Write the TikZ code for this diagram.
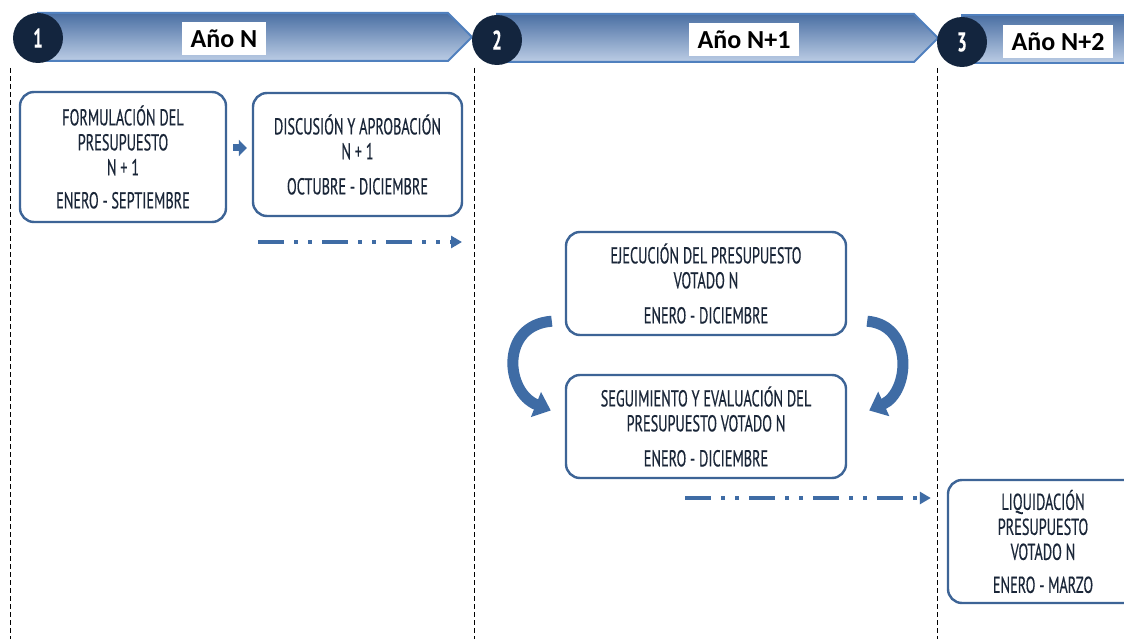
\documentclass[tikz,border=0pt]{standalone}
\usepackage{fontspec}
\setmainfont{Carlito}
\newfontfamily\boxfont[FakeStretch=0.62, FakeBold=0.4]{PT Sans}
\usetikzlibrary{positioning, arrows.meta, calc}
\definecolor{navy}{HTML}{13253E}
\definecolor{bandtop}{HTML}{4A6FA3}
\definecolor{bandbot}{HTML}{BCCDE5}
\definecolor{bandedge}{HTML}{5080BE}
\definecolor{boxblue}{HTML}{3D6496}
\definecolor{inkblue}{HTML}{1A2638}
\definecolor{arrowblue}{HTML}{3F6CA5}

\begin{document}
\begin{tikzpicture}[x=1pt, y=-1pt,
  stage/.style={draw=boxblue, line width=2.4pt, rounded corners=14pt, fill=white,
    align=center, text=inkblue, font=\boxfont\fontsize{23}{25}\selectfont},
  badge/.style={circle, fill=navy, minimum size=50pt, inner sep=0pt, text=white,
    font=\boxfont\bfseries\fontsize{27}{27}\selectfont},
  yearlabel/.style={fill=white, inner xsep=9pt, minimum height=33pt,
    font=\bfseries\fontsize{26}{28}\selectfont},
  band/.style={top color=bandtop, bottom color=bandbot, draw=bandedge, line width=2pt},
  flow/.style={arrowblue, line width=4pt,
    dash pattern=on 26pt off 10pt on 4pt off 10pt on 4pt off 10pt,
    -{Triangle[length=11pt, width=12pt]}},
  bendarrow/.style={arrowblue, line width=11pt, -{Triangle[length=16pt, width=26pt]}},
  guide/.style={black, line width=0.8pt, dash pattern=on 5pt off 3pt}]
  \clip (0,0) rectangle (1124,639);
  \fill[white] (0,0) rectangle (1124,639);

  % year bands
  \shade[band] (38,13) -- (448,13) -- (472,37) -- (448,61) -- (38,61) -- cycle;
  \shade[band] (497,14) -- (914,14) -- (938,38) -- (914,62) -- (497,62) -- cycle;
  \shade[band] (962,15) -- (1140,15) -- (1140,63) -- (962,63) -- cycle;
  \node[badge] (n1) at (38,38) {1};
  \node[badge] (n2) at (497,40) {2};
  \node[badge] (n3) at (962,42) {3};
  \node[yearlabel] (y1) at (224,39) {Año N};
  \node[yearlabel] (y2) at (744,40) {Año N+1};
  \node[yearlabel] (y3) at (1058,42) {Año N+2};

  % separators
  \draw[guide] (10,68) -- (10,639);
  \draw[guide] (474,68) -- (474,639);
  \draw[guide] (937,68) -- (937,639);

  % stages
  \node[stage, minimum width=206pt, minimum height=130pt] (form) at (123,157)
    {FORMULACIÓN DEL\\PRESUPUESTO\\N + 1\\[8pt]ENERO - SEPTIEMBRE};
  \node[stage, minimum width=209pt, minimum height=123pt] (disc) at (357.5,154.5)
    {DISCUSIÓN Y APROBACIÓN\\N + 1\\[10pt]OCTUBRE - DICIEMBRE};
  \node[stage, minimum width=280pt, minimum height=103pt] (ejec) at (706,283.5)
    {EJECUCIÓN DEL PRESUPUESTO\\VOTADO N\\[10pt]ENERO - DICIEMBRE};
  \node[stage, minimum width=280pt, minimum height=103pt] (segu) at (706,426.5)
    {SEGUIMIENTO Y EVALUACIÓN DEL\\PRESUPUESTO VOTADO N\\[10pt]ENERO - DICIEMBRE};
  \node[stage, minimum width=190pt, minimum height=123pt] (liqu) at (1043,541.5)
    {LIQUIDACIÓN\\PRESUPUESTO\\VOTADO N\\[8pt]ENERO - MARZO};

  % connectors
  \draw[arrowblue, line width=7pt, -{Triangle[length=8pt, width=16pt]}]
    ([shift={(6pt,9pt)}]form.east) -- ([shift={(-5pt,6.5pt)}]disc.west);
  \coordinate (f1a) at (258,242);
  \coordinate (f1b) at (462,242);
  \draw[flow] (f1a) -- (f1b);
  \coordinate (f2a) at (685,498);
  \draw[flow] (f2a) -- ([xshift=-16pt]liqu.west |- f2a);
  \draw[bendarrow] ([shift={(-13pt,15pt)}]ejec.south west)
    .. controls (500,325) and (505,392) .. ([shift={(-14pt,16pt)}]segu.west);
  \draw[bendarrow] ([shift={(20pt,15pt)}]ejec.south east)
    .. controls (914,325) and (910,392) .. ([shift={(22pt,16pt)}]segu.east);
\end{tikzpicture}
\end{document}
